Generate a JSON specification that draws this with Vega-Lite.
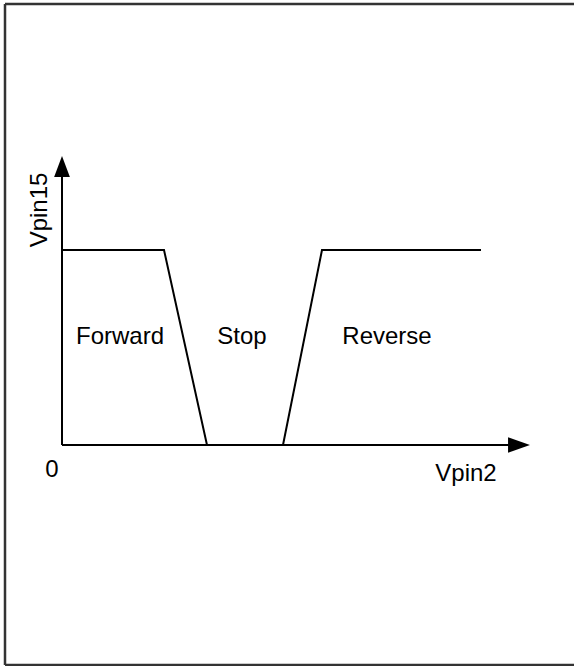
{
  "$schema": "https://vega.github.io/schema/vega-lite/v6.json",
  "width": 574,
  "height": 666,
  "padding": 0,
  "autosize": {"type": "none"},
  "background": "white",
  "config": {"view": {"stroke": null}},
  "datasets": {
    "frame": [
      {"x": -57, "x2": -57, "y": 441, "y2": -220},
      {"x": -57, "x2": 512, "y": 441, "y2": 441},
      {"x": -57, "x2": 512, "y": -220, "y2": -220}
    ],
    "axes": [
      {"x": 0, "x2": 0, "y": 0, "y2": 272},
      {"x": 0, "x2": 452, "y": 0, "y2": 0}
    ],
    "arrows": [
      {"x": 0, "y": 278.5, "dir": "up"},
      {"x": 457, "y": 0, "dir": "right"}
    ],
    "curve": [
      {"x": 0, "y": 195},
      {"x": 102, "y": 195},
      {"x": 145, "y": 0},
      {"x": 221, "y": 0},
      {"x": 260, "y": 195},
      {"x": 419, "y": 195}
    ],
    "labels": [
      {"x": 58, "y": 108, "text": "Forward"},
      {"x": 180, "y": 108, "text": "Stop"},
      {"x": 325, "y": 108, "text": "Reverse"},
      {"x": -10, "y": -25, "text": "0"},
      {"x": 404, "y": -29, "text": "Vpin2"}
    ],
    "ylabel": [
      {"x": -22, "y": 235, "text": "Vpin15"}
    ]
  },
  "layer": [
    {
      "data": {"name": "frame"},
      "mark": {"type": "rule", "color": "#333333", "strokeWidth": 2.5},
      "encoding": {
        "x": {"field": "x", "type": "quantitative", "scale": {"domain": [-62, 512], "nice": false, "zero": false}, "axis": null},
        "x2": {"field": "x2"},
        "y": {"field": "y", "type": "quantitative", "scale": {"domain": [-221, 445], "nice": false, "zero": false}, "axis": null},
        "y2": {"field": "y2"}
      }
    },
    {
      "data": {"name": "axes"},
      "mark": {"type": "rule", "color": "black", "strokeWidth": 2},
      "encoding": {
        "x": {"field": "x", "type": "quantitative", "axis": null},
        "x2": {"field": "x2"},
        "y": {"field": "y", "type": "quantitative", "axis": null},
        "y2": {"field": "y2"}
      }
    },
    {
      "data": {"name": "curve"},
      "mark": {"type": "line", "color": "black", "strokeWidth": 2},
      "encoding": {
        "x": {"field": "x", "type": "quantitative", "axis": null},
        "y": {"field": "y", "type": "quantitative", "axis": null},
        "order": {"field": "x", "type": "quantitative"}
      }
    },
    {
      "data": {"name": "arrows"},
      "transform": [{"filter": "datum.dir === 'up'"}],
      "mark": {"type": "point", "filled": true, "color": "black", "opacity": 1, "size": 440, "shape": "M0,-1L0.75,1L-0.75,1Z"},
      "encoding": {
        "x": {"field": "x", "type": "quantitative", "axis": null},
        "y": {"field": "y", "type": "quantitative", "axis": null}
      }
    },
    {
      "data": {"name": "arrows"},
      "transform": [{"filter": "datum.dir === 'right'"}],
      "mark": {"type": "point", "filled": true, "color": "black", "opacity": 1, "size": 480, "shape": "M1,0L-1,-0.7L-1,0.7Z"},
      "encoding": {
        "x": {"field": "x", "type": "quantitative", "axis": null},
        "y": {"field": "y", "type": "quantitative", "axis": null}
      }
    },
    {
      "data": {"name": "labels"},
      "mark": {"type": "text", "font": "Liberation Sans", "fontSize": 24, "align": "center", "baseline": "middle", "color": "black"},
      "encoding": {
        "x": {"field": "x", "type": "quantitative", "axis": null},
        "y": {"field": "y", "type": "quantitative", "axis": null},
        "text": {"field": "text"}
      }
    },
    {
      "data": {"name": "ylabel"},
      "mark": {"type": "text", "font": "Liberation Sans", "fontSize": 24, "align": "center", "baseline": "middle", "angle": 270, "color": "black"},
      "encoding": {
        "x": {"field": "x", "type": "quantitative", "axis": null},
        "y": {"field": "y", "type": "quantitative", "axis": null},
        "text": {"field": "text"}
      }
    }
  ]
}
